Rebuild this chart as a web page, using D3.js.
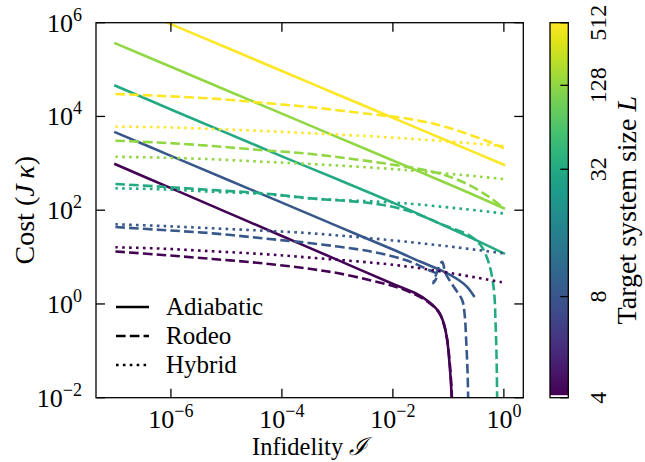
<!DOCTYPE html>
<html>
<head>
<meta charset="utf-8">
<script src="https://cdn.jsdelivr.net/npm/d3@7"></script>
<style>
  body { margin: 0; background: #fff; }
  text { font-family: "Liberation Serif", "DejaVu Serif", serif; fill: #000; }
</style>
</head>
<body>
<script>
// target system sizes, one colour each
const sizes = [4, 8, 32, 128, 512];

// [infidelity, cost], one list per size (same order as sizes)
const adiabatic = [
  [[1e-7,955],[1e-6,295],[1e-5,91.2],[1e-4,28.2],[1e-3,8.71],[0.0111,2.54],[0.0255,1.69],[0.0443,1.12],[0.0671,0.684],[0.0826,0.386],[0.0951,0.170],[0.1047,0.0542],[0.1122,0.0172],[0.1161,0.0063]],
  [[1e-7,4570],[1e-6,1445],[1e-5,457],[1e-4,145],[1e-3,45.7],[1e-2,14.5],[0.0316,7.94],[0.0794,5.01],[0.158,3.16],[0.219,2.29],[0.288,1.48]],
  [[1e-7,45300],[1e-6,14100],[1e-5,4470],[1e-4,1410],[1e-3,457],[1e-2,145],[0.0585,56.9],[0.269,25.1],[1,12.0]],
  [[1e-7,363000],[1e-6,115000],[1e-5,36300],[1e-4,11500],[1e-3,3630],[1e-2,1150],[0.1,363],[1,110]],
  [[1e-7,2.95e6],[1e-6,9.3e5],[1e-5,2.95e5],[1e-4,9.3e4],[1e-3,2.95e4],[1e-2,9330],[0.1,2950],[1,933]]
];

const rodeo = [
  [[1e-7,13.2],[7.08e-7,11.1],[5.66e-6,9.10],[4.53e-5,7.36],[3.37e-4,5.56],[1.05e-3,4.51],[4.21e-3,3.13],[0.0111,2.33],[0.0255,1.58],[0.0443,1.07],[0.0671,0.661],[0.0826,0.372],[0.0955,0.170],[0.106,0.0537],[0.1135,0.0170],[0.1175,0.0063]],
  [[1e-7,43.7],[7.08e-7,37.8],[5.66e-6,32.1],[4.53e-5,25.1],[3.37e-4,19.7],[4.21e-3,13.0],[0.0168,8.65],[0.0443,5.30],[0.0628,4.15],[0.0532,2.75],[0.0773,7.94],[0.0887,4.51],[0.125,2.33],[0.177,1.21],[0.198,0.535],[0.209,0.170],[0.221,0.039],[0.229,0.0063]],
  [[1e-7,363],[7.08e-7,316],[5.66e-6,269],[4.53e-5,229],[3.37e-4,179],[4.21e-3,140],[0.0168,101],[0.0509,61.8],[0.0672,52.5],[0.233,29.5],[0.380,18.1],[0.537,7.36],[0.661,1.99],[0.708,0.386],[0.738,0.075],[0.759,0.0063]],
  [[1e-7,3040],[7.08e-7,2750],[5.66e-6,2340],[4.53e-5,1905],[3.37e-4,1580],[0.0168,851],[0.0671,612],[0.204,375],[0.537,194],[1,110]],
  [[1e-7,30100],[7.08e-7,27300],[5.66e-6,24000],[4.53e-5,19600],[3.37e-4,15700],[4.21e-3,11100],[0.0168,9120],[0.0671,6580],[0.204,4370],[0.537,2890],[1,2090]]
];

const hybrid = [
  [[1e-7,16.2],[7.08e-7,15.1],[5.66e-6,13.3],[4.53e-5,11.6],[3.37e-4,9.70],[0.0111,6.76],[0.0773,4.88],[1,2.85]],
  [[1e-7,50.1],[7.08e-7,46.0],[5.66e-6,41.1],[4.53e-5,36.6],[3.37e-4,32.1],[0.0111,22.4],[0.0887,17.2],[1,12.0]],
  [[1e-7,293],[7.08e-7,279],[5.66e-6,248],[4.53e-5,222],[3.37e-4,178],[0.0168,140],[1,85.1]],
  [[1e-7,1380],[7.08e-7,1320],[5.66e-6,1220],[4.53e-5,1080],[3.37e-4,968],[0.0168,721],[1,463]],
  [[1e-7,6040],[7.08e-7,5890],[5.66e-6,5400],[4.53e-5,4900],[3.37e-4,4370],[0.0168,3410],[1,2340]]
];

const xTicks = [1e-6, 1e-4, 1e-2, 1];
const yTicks = [1e-2, 1, 1e2, 1e4, 1e6];
const methods = ['Adiabatic', 'Rodeo', 'Hybrid'];

let W = 645, H = 462;
let plot = {left: 96, right: 523.3, top: 22.7, bottom: 397.7};
let cbar = {left: 550, right: 568.3};
let lw = 2.6;
let dashes = [null, (3.7 * lw) + ',' + (1.6 * lw), lw + ',' + (1.65 * lw)];

let svg = d3.select('body').append('svg').attr('width', W).attr('height', H);

let x = d3.scaleLog().domain([Math.pow(10, -7.35), Math.pow(10, 0.35)]).range([plot.left, plot.right]);
let y = d3.scaleLog().domain([1e-2, 1e6]).range([plot.bottom, plot.top]);

// colour norm: log of log2(L), as on the colour bar
let norm = d3.scaleLog().domain([2, 9]).range([0, 1]);
let colour = function(L) { return d3.interpolateViridis(norm(Math.log2(L))); };

svg.append('clipPath').attr('id', 'clip').append('rect')
  .attr('x', plot.left).attr('y', plot.top)
  .attr('width', plot.right - plot.left).attr('height', plot.bottom - plot.top);

let line = d3.line().x(d => x(d[0])).y(d => y(d[1])).curve(d3.curveCatmullRom.alpha(0.5));

let g = svg.append('g').attr('clip-path', 'url(#clip)');

[adiabatic, rodeo, hybrid].forEach(function(series, m) {
  g.selectAll('.m' + m).data(series).enter().append('path')
    .attr('class', 'm' + m)
    .attr('d', line)
    .attr('fill', 'none')
    .attr('stroke', (d, i) => colour(sizes[i]))
    .attr('stroke-width', lw)
    .attr('stroke-linecap', m == 0 ? 'square' : 'butt')
    .attr('stroke-dasharray', dashes[m]);
});

// frame
svg.append('rect').attr('x', plot.left).attr('y', plot.top)
  .attr('width', plot.right - plot.left).attr('height', plot.bottom - plot.top)
  .attr('fill', 'none').attr('stroke', '#000').attr('stroke-width', 1.3);

let tickLen = 9;

function powerLabel(sel, v) {
  let e = Math.round(Math.log10(v));
  sel.append('tspan').text('10');
  sel.append('tspan').attr('dy', -11).attr('font-size', 18).text(e < 0 ? '\u2212' + (-e) : e);
}

// x ticks, top and bottom, pointing in
xTicks.forEach(function(v) {
  svg.append('line').attr('x1', x(v)).attr('x2', x(v)).attr('y1', plot.bottom).attr('y2', plot.bottom - tickLen)
    .attr('stroke', '#000').attr('stroke-width', 1.3);
  svg.append('line').attr('x1', x(v)).attr('x2', x(v)).attr('y1', plot.top).attr('y2', plot.top + tickLen)
    .attr('stroke', '#000').attr('stroke-width', 1.3);
  svg.append('text').attr('x', x(v)).attr('y', 427.5).attr('text-anchor', 'middle')
    .attr('font-size', 26).call(powerLabel, v);
});

yTicks.forEach(function(v) {
  svg.append('line').attr('x1', plot.left).attr('x2', plot.left + tickLen).attr('y1', y(v)).attr('y2', y(v))
    .attr('stroke', '#000').attr('stroke-width', 1.3);
  svg.append('line').attr('x1', plot.right).attr('x2', plot.right - tickLen).attr('y1', y(v)).attr('y2', y(v))
    .attr('stroke', '#000').attr('stroke-width', 1.3);
  svg.append('text').attr('x', 82).attr('y', y(v) + 9).attr('text-anchor', 'end')
    .attr('font-size', 26).call(powerLabel, v);
});

// axis labels
let xl = svg.append('text').attr('x', (plot.left + plot.right) / 2).attr('y', 455)
  .attr('text-anchor', 'middle').attr('font-size', 24.5);
xl.append('tspan').text('Infidelity ');
xl.append('tspan').attr('font-style', 'italic').text('\u2110');

let yl = svg.append('text').attr('transform', 'translate(34,' + ((plot.top + plot.bottom) / 2) + ') rotate(-90)')
  .attr('text-anchor', 'middle').attr('font-size', 28);
yl.append('tspan').text('Cost (');
yl.append('tspan').attr('font-style', 'italic').text('J\u2009\u03ba');
yl.append('tspan').text(')');

// legend
let legend = svg.append('g').attr('transform', 'translate(116,307)');
methods.forEach(function(name, m) {
  legend.append('line').attr('x1', 0).attr('x2', 33).attr('y1', m * 29).attr('y2', m * 29)
    .attr('stroke', '#000').attr('stroke-width', lw).attr('stroke-dasharray', dashes[m]);
  legend.append('text').attr('x', 50).attr('y', m * 29 + 8).attr('font-size', 25).text(name);
});

// colour bar
let grad = svg.append('defs').append('linearGradient').attr('id', 'vir')
  .attr('x1', 0).attr('y1', 1).attr('x2', 0).attr('y2', 0);
d3.range(0, 1.0001, 0.05).forEach(function(t) {
  grad.append('stop').attr('offset', t).attr('stop-color', d3.interpolateViridis(t));
});
let cy = d3.scaleLog().domain([2, 9]).range([plot.bottom, plot.top]);
svg.append('rect').attr('x', cbar.left).attr('y', plot.top)
  .attr('width', cbar.right - cbar.left).attr('height', plot.bottom - plot.top - 2.5)
  .attr('fill', 'url(#vir)');
svg.append('rect').attr('x', cbar.left).attr('y', plot.top)
  .attr('width', cbar.right - cbar.left).attr('height', plot.bottom - plot.top)
  .attr('fill', 'none').attr('stroke', '#000').attr('stroke-width', 1.3);

sizes.forEach(function(L) {
  let yy = cy(Math.log2(L));
  svg.append('line').attr('x1', cbar.right).attr('x2', cbar.right - 8).attr('y1', yy).attr('y2', yy)
    .attr('stroke', '#000').attr('stroke-width', 1.3);
  svg.append('text').attr('transform', 'translate(606,' + yy + ') rotate(-90)')
    .attr('text-anchor', 'middle').attr('font-size', 24).text(L);
});

let cl = svg.append('text').attr('transform', 'translate(636,' + ((plot.top + plot.bottom) / 2) + ') rotate(-90)')
  .attr('text-anchor', 'middle').attr('font-size', 28);
cl.append('tspan').text('Target system size ');
cl.append('tspan').attr('font-style', 'italic').text('L');
</script>
</body>
</html>
